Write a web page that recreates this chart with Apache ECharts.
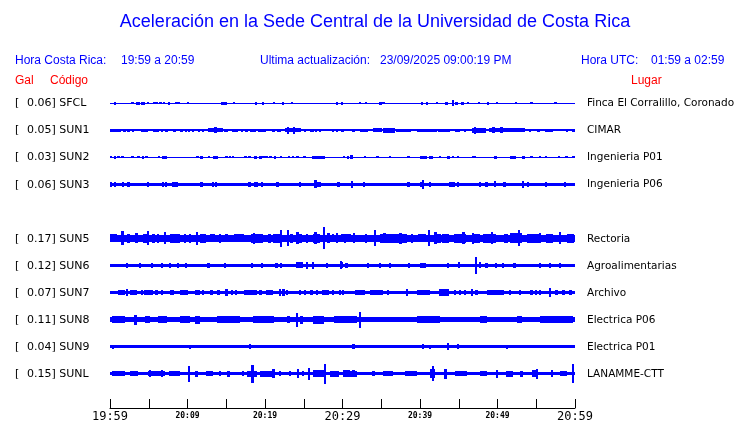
<!DOCTYPE html>
<html><head><meta charset="utf-8">
<script src="https://cdn.jsdelivr.net/npm/echarts@6/dist/echarts.min.js"></script>
<style>html,body{margin:0;padding:0;background:#fff}#c{width:740px;height:423px}</style>
</head><body><div id="c"></div>
<script>
// ---- data ----
const codes = ['SFCL','SUN1','SUN2','SUN3','SUN5','SUN6','SUN7','SUN8','SUN9','SUNL'];
const galValues = ['0.06','0.05','0.03','0.06','0.17','0.12','0.07','0.11','0.04','0.15'];
const places = ['Finca El Corralillo, Coronado','CIMAR','Ingenieria P01','Ingenieria P06','Rectoria','Agroalimentarias','Archivo','Electrica P06','Electrica P01','LANAMME-CTT'];
const rowSlots = [0,1,2,3,5,6,7,8,9,10];
const tickLabels = ['19:59','20:09','20:19','20:29','20:39','20:49','20:59'];
// base half-thickness of each trace (px)
const baseHalf = [0.5,0.8,0.5,1.8,3.3,1.8,1.5,2.7,1.5,1.8];
// events: [minute, half amplitude (px), width (minutes, optional)]
const evSFCL = [[0.65,1.5],[2.8,1],[3.0,1],[3.6,1.5,0.5],[4.25,1.5,0.5],[4.9,1],[5.7,1],[6.0,1],[6.5,1],[7.0,1],[7.6,1.5],[8.6,1],[8.9,1],[10.1,1],[14.5,1.5],[14.9,1.5],[16.0,1],[18.8,1.5],[19.7,1.5],[21.2,1],[22.3,1.5],[23.5,1],[29.3,1.5],[29.9,1.5],[32.3,1],[33.0,1],[34.9,1.5],[35.3,1],[40.3,1.5],[40.9,1.5],[42.2,1],[43.4,1.5],[44.3,3],[44.7,1.5],[45.5,1.5],[46.2,1],[47.6,1],[48.8,1.5],[49.9,1],[52.4,1],[54.4,1],[57.5,1]];
const evSUN1 = [[0.7,1.7,1.4],[1.85,1.5],[2.37,1.5],[3.0,1.7,0.3],[4.1,1.5],[4.35,1.5],[4.73,1.5],[5.8,1.7,0.4],[6.2,1.5],[6.7,1.5],[7.3,1.5],[8.3,1.7,0.35],[9.2,1.7,0.4],[9.8,1.5],[10.2,1.5],[10.75,1.5],[11.5,1.7],[12.0,1.5],[13.6,1.8,2],[13.6,3],[14.8,1.5],[15.05,1.5],[16.1,1.7,0.8],[17.0,1.5],[17.6,1.5],[18.5,1.7,0.8],[19.6,1.7,1],[21.1,1.5],[21.8,1.7,0.6],[23.6,1.9,2.1],[23.0,3.5],[23.7,3.5],[25.2,1.5],[26.0,1.5],[26.2,1.5],[26.6,1.5],[27.1,1.5],[28.1,1.2],[28.8,1.5],[29.3,1.5],[30.0,1.5],[31.4,1.5,0.4],[32.8,1.5,1],[34.5,2,1.1],[36.0,2.3,1.5],[37.9,1.5,1.9],[40.9,1.5,2.6],[43.1,1.5,1.5],[44.8,1.5,0.6],[45.8,1.5],[47.6,2.3,1.9],[47.1,3.5],[51.2,1.8,4.7],[49.5,3],[50.5,3],[54.2,1.5],[55.3,1.5,0.4],[56.6,1.5,1],[58.0,1.2],[59.0,1.5],[59.8,1.5]];
const evSUN2 = [[0.13,1],[0.65,1.5],[1.08,1],[1.6,1],[2.9,1],[3.66,1],[4.3,1.5],[4.73,1],[6.3,1],[7.0,1.7,0.6],[11.3,1],[11.8,1.2],[12.8,1],[13.6,1.7,0.6],[15.05,1],[15.5,1],[15.9,1],[17.5,1],[18.0,1],[18.75,1.5,0.35],[19.4,1.2],[19.8,1],[20.2,1],[20.7,1],[21.3,1.5],[22.1,1],[23.1,1],[23.6,1],[24.2,1],[25.1,1],[26.9,1.5,1.6],[30.2,1],[30.7,1.5],[31.2,2,0.4],[32.9,1],[34.5,1],[36.1,1],[38.5,1],[40.4,1.8,0.9],[41.4,1.5,0.6],[42.6,1],[43.7,1.8,0.4],[44.3,1],[44.9,1],[46.8,1],[47.1,1],[49.7,1.5,0.4],[52.0,1.3,0.9],[53.3,1.5,0.4],[54.4,1],[55.5,1],[56.3,1],[57.9,1],[58.9,1],[59.8,1]];
const evSUN3 = [[0.13,2.3],[0.65,2.5],[1.72,2.3],[2.37,2.3],[4.9,2.3],[6.8,2.3],[7.2,2.5],[8.2,2.2],[8.6,2.2],[11.8,2.7],[13.3,2.6],[13.7,2.6],[18.0,2.4],[18.7,2.6],[19.0,2.4],[19.6,2.3],[21.6,2.6],[24.5,2.2],[26.5,4],[26.9,2.7,0.6],[29.5,2.2],[31.2,3.5],[32.8,2.2],[38.5,2.2],[40.1,2.8],[40.4,4.3],[41.3,2.5],[44.1,2.7,0.8],[44.9,2.3],[47.7,2.3],[48.6,2.3],[49.7,3],[50.9,2.3],[53.3,3.7],[53.9,2.5],[56.3,2.3],[58.7,2.3]];
const evSUN5 = [[0.43,4,0.9],[1.63,7],[2.37,4.5],[3.44,5],[4.6,4.5,0.7],[4.9,7],[5.6,4.5],[6.2,4.5],[7.1,6,0.3],[8.4,4.3,1.3],[9.7,4.5],[10.3,4.5],[11.2,6.5],[12.0,4.3,0.9],[13.2,4,0.7],[14.2,4.5],[15.05,4],[16.6,4,1.3],[19.0,4.3,1.5],[18.6,5.5],[20.6,4.5],[21.6,4.5,1.1],[22.1,8.7],[23.0,8],[23.4,4.5],[24.4,4.5,0.7],[24.2,6],[25.4,4.5],[26.7,4.5,0.9],[26.5,6],[27.6,11],[28.2,5],[28.8,4],[29.3,5],[30.3,4.5],[30.5,4,1.3],[31.5,5],[33.0,4.5],[34.2,8],[35.4,5],[36.6,4.3,3.4],[37.5,5.5],[39.0,4.5],[40.3,4,1],[41.2,8],[42.2,4.5,0.9],[42.0,6],[43.3,4.3,1],[45.2,4.5,1.5],[45.6,6],[47.2,4.5,1],[46.8,5.5],[49.0,4.5,1.7],[49.3,6],[51.1,4.5,0.6],[52.4,5,1.5],[52.8,8],[54.6,4.3,1.7],[55.5,5],[56.7,4.3,1],[58.1,6],[59.4,4.3,0.9]];
const evSUN6 = [[2.15,2.3],[3.87,2.7],[5.4,2.3],[6.7,2.3],[7.7,2.3],[8.8,2.3],[9.8,2.3],[12.7,2.3],[14.8,2.3],[18.3,2.3],[19.6,2.3],[21.5,2.3],[22.1,2.3],[24.5,3,0.9],[25.4,3.5],[26.2,3.5],[28.0,2.3],[29.8,4],[30.5,2.3],[29.9,3],[33.3,2.3],[34.8,2.3],[36.1,2.5],[38.6,2.3],[40.4,2.3,0.8],[43.6,2.3],[45.0,3],[47.2,8.5],[47.7,3],[48.6,2.5],[49.8,2.5],[50.7,2.3],[52.2,2.3],[55.5,2.3],[56.8,2.3],[58.1,2.3]];
const evSUN7 = [[1.5,3,0.9],[2.15,3.5],[3.0,2.7,0.9],[4.1,2.5],[5.0,2.7,1.1],[6.0,2.5],[6.7,2.5],[8.0,2.7,0.6],[9.5,3,1],[11.3,3,0.6],[12.0,2.5],[13.1,3],[14.0,2.5],[15.05,4],[15.7,2.5],[16.3,2.5],[18.1,2.7,1.7],[19.4,2.5],[20.6,2.7,0.9],[21.9,3.5],[22.4,4],[22.8,3],[24.5,2.5],[25.2,2.5],[26.0,2.5],[26.7,3],[27.8,2.7,1],[28.8,2.5],[29.7,2.5],[30.1,2.5],[32.3,3,1.3],[34.4,2.7,1.7],[35.9,3],[38.3,3.5],[40.4,2.7,1.7],[43.1,3.2,1.3],[44.5,2.5],[45.2,2.5],[45.8,2.5],[46.7,3.5],[47.3,2.5],[49.7,3,2.2],[51.6,2.5],[52.9,3],[54.4,2.5],[55.0,2.5],[55.5,2.5],[56.8,4.5],[57.6,2.5],[58.5,2.5],[59.4,2.5]];
const evSUN8 = [[1.1,3.5,1.7],[3.3,5],[4.8,3.5,0.6],[6.8,3.5,1.1],[9.7,3.5,1.3],[11.3,4,0.6],[15.3,3.5,3],[19.8,3.5,2.6],[23.0,3.5,0.4],[24.1,7],[24.7,4,0.4],[26.9,4,1.3],[29.7,3.5,1.7],[31.2,3.5,1.3],[32.3,8],[41.1,3.5,3],[48.2,3.5,0.9],[52.8,3.5,0.6],[57.6,3.3,4.3]];
const evSUN9 = [[0.4,2],[7.3,1.8],[10.3,2],[18.1,2.5],[31.4,2.3],[40.4,2.3],[41.3,2],[43.6,3.5],[44.9,2.3],[51.2,2]];
const evSUNL = [[1.1,2.7,1.7],[3.1,2.5,1],[6.0,2.7,2.1],[5.2,3.5],[6.7,3.5],[8.3,2.5,1.5],[10.2,8],[11.2,3,0.4],[12.9,2.5,0.9],[14.2,2.5],[15.3,3],[17.2,2.5],[18.3,3,1.3],[18.4,9],[20.3,3,1.9],[21.1,4.5],[21.9,2.5],[23.2,2.5],[24.3,4.5],[24.9,2.5],[25.7,6],[26.9,3.5,1.3],[27.7,10],[29.0,3,1.1],[30.5,3.5,0.9],[31.0,3,1.7],[31.4,3.5],[34.0,2.7,0.4],[35.9,2.7,1.3],[38.8,2.7,1.5],[41.6,4.5,0.6],[41.7,7.5],[43.3,5,0.4],[45.3,2.7,1.5],[48.2,2.5,0.9],[49.9,4],[51.6,3,0.9],[53.1,3],[54.7,3.5,0.6],[55.1,5],[57.0,3.5],[58.5,2.7,0.9],[59.7,9.5]];
const events = [evSFCL,evSUN1,evSUN2,evSUN3,evSUN5,evSUN6,evSUN7,evSUN8,evSUN9,evSUNL];

// ---- layout ----
const GRID_TOP = 88, GRID_H = 321, ROW0 = 15.3, ROW_STEP = 27.12;
const BLUE = '#0000ff', RED = '#ff0000';
const rowY = s => ROW0 + ROW_STEP * s;

function renderItem(params, api) {
  const t = api.value(0), h = api.value(1), w = api.value(2), yc = api.value(3);
  const cs = params.coordSys;
  const p0 = api.coord([t - w / 2, yc]);
  const p1 = api.coord([t + w / 2, yc]);
  const hp = api.size([0, h])[1];
  let x0 = Math.max(Math.round(p0[0]), cs.x);
  let x1 = Math.min(Math.round(p1[0]), cs.x + cs.width);
  if (x1 - x0 < 2) x1 = x0 + 2;
  const y0 = Math.round(p0[1] - hp), y1 = Math.max(Math.round(p0[1] + hp), y0 + 1);
  return { type: 'rect', shape: { x: x0, y: y0, width: x1 - x0, height: y1 - y0 }, style: { fill: BLUE } };
}

const series = codes.map((c, i) => {
  const yc = rowY(rowSlots[i]);
  const data = [[30, baseHalf[i], 60, yc]].concat(events[i].map(e => [e[0], e[1], e[2] || 0.3, yc]));
  return { type: 'custom', name: c, renderItem, data, encode: { x: 0, y: 3 }, silent: true, animation: false };
});

const graphic = [
  { type: 'text', x: 375, y: 22, style: { text: 'Aceleración en la Sede Central de la Universidad de Costa Rica', font: '18px "Liberation Sans"', fill: BLUE, align: 'center', verticalAlign: 'middle' } },
  { type: 'text', x: 15, y: 61, style: { text: 'Hora Costa Rica:', font: '12px "Liberation Sans"', fill: BLUE, verticalAlign: 'middle' } },
  { type: 'text', x: 121, y: 61, style: { text: '19:59 a 20:59', font: '12px "Liberation Sans"', fill: BLUE, verticalAlign: 'middle' } },
  { type: 'text', x: 260, y: 61, style: { text: 'Ultima actualización:', font: '12px "Liberation Sans"', fill: BLUE, verticalAlign: 'middle' } },
  { type: 'text', x: 380, y: 61, style: { text: '23/09/2025 09:00:19 PM', font: '12px "Liberation Sans"', fill: BLUE, verticalAlign: 'middle' } },
  { type: 'text', x: 581, y: 61, style: { text: 'Hora UTC:', font: '12px "Liberation Sans"', fill: BLUE, verticalAlign: 'middle' } },
  { type: 'text', x: 651, y: 61, style: { text: '01:59 a 02:59', font: '12px "Liberation Sans"', fill: BLUE, verticalAlign: 'middle' } },
  { type: 'text', x: 15, y: 81, style: { text: 'Gal', font: '12px "Liberation Sans"', fill: RED, verticalAlign: 'middle' } },
  { type: 'text', x: 50, y: 81, style: { text: 'Código', font: '12px "Liberation Sans"', fill: RED, verticalAlign: 'middle' } },
  { type: 'text', x: 631, y: 81, style: { text: 'Lugar', font: '12px "Liberation Sans"', fill: RED, verticalAlign: 'middle' } }
];
codes.forEach((c, i) => {
  const y = GRID_TOP + rowY(rowSlots[i]);
  graphic.push({ type: 'text', x: 15, y: y, style: { text: '[', font: '11px "DejaVu Sans"', fill: '#000', verticalAlign: 'middle' } });
  graphic.push({ type: 'text', x: 27, y: y, style: { text: galValues[i] + '] ' + c, font: '11px "DejaVu Sans"', fill: '#000', verticalAlign: 'middle' } });
  graphic.push({ type: 'text', x: 587, y: y, style: { text: places[i], font: '10.5px "DejaVu Sans"', fill: '#000', verticalAlign: 'middle' } });
});

const chart = echarts.init(document.getElementById('c'), null, { renderer: 'canvas' });
chart.setOption({
  animation: false,
  backgroundColor: '#fff',
  grid: { left: 110, right: 165, top: GRID_TOP, height: GRID_H, containLabel: false },
  xAxis: {
    type: 'value', min: 0, max: 60, interval: 5, position: 'bottom',
    axisLine: { show: true, onZero: false, lineStyle: { color: '#000', width: 1 } },
    axisTick: { show: true, inside: true, length: 9, lineStyle: { color: '#000', width: 1 } },
    splitLine: { show: false },
    axisLabel: {
      margin: 2,
      formatter: v => v % 30 === 0 ? '{big|' + tickLabels[v / 10] + '}' : (v % 10 === 0 ? '{small|' + tickLabels[v / 10] + '}' : ''),
      rich: {
        big: { fontFamily: 'DejaVu Sans Mono', fontSize: 12, color: '#000', lineHeight: 14 },
        small: { fontFamily: 'DejaVu Sans Mono', fontSize: 8, fontWeight: 'bold', color: '#000', lineHeight: 12 }
      }
    }
  },
  yAxis: { type: 'value', min: 0, max: GRID_H, inverse: true, show: false },
  graphic,
  series
});
</script></body></html>
